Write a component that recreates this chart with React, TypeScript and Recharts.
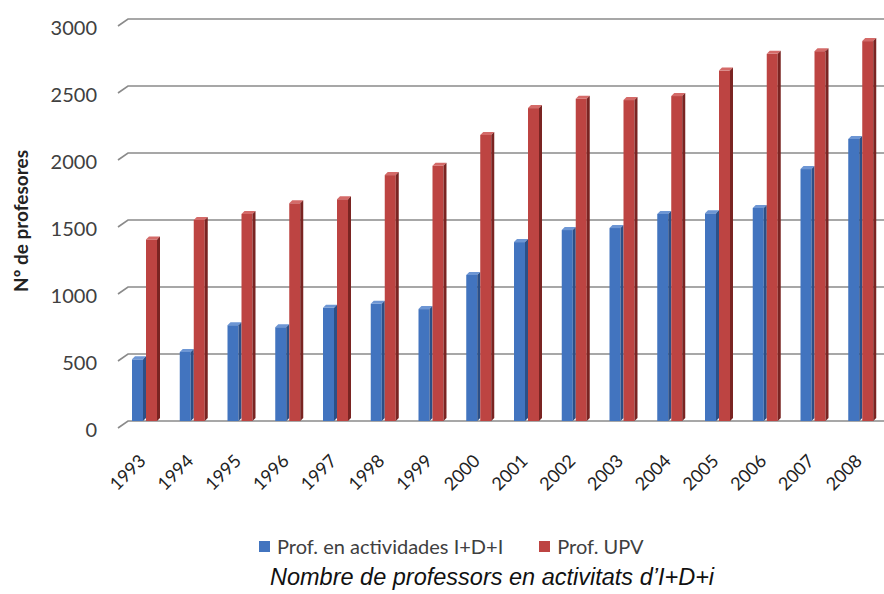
import { BarChart, Bar, XAxis, YAxis, CartesianGrid, Legend, Label } from 'recharts';

const years = ['1993', '1994', '1995', '1996', '1997', '1998', '1999', '2000', '2001', '2002', '2003', '2004', '2005', '2006', '2007', '2008'];
const profIdi = [460, 515, 715, 700, 845, 875, 835, 1090, 1335, 1425, 1440, 1545, 1550, 1590, 1880, 2105];
const profUpv = [1355, 1500, 1545, 1625, 1655, 1835, 1905, 2135, 2335, 2405, 2395, 2425, 2615, 2740, 2760, 2835];
const yTicks = [0, 500, 1000, 1500, 2000, 2500, 3000];

const data = years.map((year, i) => ({ year, idi: profIdi[i], upv: profUpv[i] }));

const BLUE = '#4274bf';
const RED = '#bd4442';
const axisFont = 'Lato, "Open Sans", sans-serif';

function Bar3D(props: any) {
  const { x, y, width, height, fill, top, side } = props;
  if (!height || height <= 0) return null;
  const d = 3;
  const w = width - d;
  return (
    <g>
      <rect x={x} y={y} width={w} height={height} fill={fill} />
      <polygon points={`${x},${y} ${x + d},${y - d} ${x + w + d},${y - d} ${x + w},${y}`} fill={top} />
      <polygon points={`${x + w},${y} ${x + w + d},${y - d} ${x + w + d},${y + height - d} ${x + w},${y + height}`} fill={side} />
    </g>
  );
}

function GridLine(p: any) {
  const { x1, x2, y1 } = p;
  return (
    <path
      key={`grid-${y1}`}
      d={`M${x1 - 4},${y1 + 7} L${x1 + 6},${y1} L${x2},${y1}`}
      stroke="#8a8a8a"
      strokeWidth={1.6}
      fill="none"
    />
  );
}

function YTick({ x, y, payload }: any) {
  return (
    <text x={x} y={y + 8} textAnchor="end" dominantBaseline="central" fontSize={20} fill="#404040" fontFamily={axisFont}>
      {payload.value}
    </text>
  );
}

function XTick({ x, y, payload }: any) {
  return (
    <g transform={`translate(${x + 1},${y + 41})`}>
      <text x={0} y={0} textAnchor="end" transform="rotate(-45)" fontSize={18} fill="#222" fontFamily={axisFont}>
        {payload.value}
      </text>
    </g>
  );
}

function LegendBox() {
  const items = [
    { label: 'Prof. en actividades I+D+I', color: BLUE },
    { label: 'Prof. UPV', color: RED },
  ];
  return (
    <div style={{ display: 'flex', gap: 36, fontFamily: axisFont, fontSize: 20, color: '#404040', lineHeight: 1 }}>
      {items.map((it) => (
        <div key={it.label} style={{ display: 'flex', alignItems: 'center' }}>
          <span style={{ width: 11, height: 11, background: it.color, display: 'inline-block', marginRight: 7 }} />
          <span>{it.label}</span>
        </div>
      ))}
    </div>
  );
}

export default function App() {
  return (
    <div style={{ position: 'absolute', left: 0, top: 0, width: 884, height: 594, overflow: 'hidden', background: '#fff' }}>
      <BarChart width={890} height={594} data={data} margin={{ top: 19, right: 4, bottom: 0, left: 0 }} barGap={0}>
        <CartesianGrid vertical={false} horizontal={GridLine} />
        <XAxis dataKey="year" height={173} axisLine={false} tickLine={false} tickSize={0} tickMargin={0} interval={0} tick={<XTick />} />
        <YAxis
          width={122}
          domain={[0, 3000]}
          ticks={yTicks}
          axisLine={false}
          tickLine={false}
          tickSize={0}
          tickMargin={25}
          tick={<YTick />}
        >
          <Label
            content={() => (
              <text
                x={20}
                y={221}
                transform="rotate(-90, 20, 221)"
                textAnchor="middle"
                dominantBaseline="central"
                fontSize={19}
                fontWeight="bold"
                fill="#222"
                fontFamily={axisFont}
              >
                Nº de profesores
              </text>
            )}
          />
        </YAxis>
        <Legend
          layout="horizontal"
          verticalAlign="middle"
          align="center"
          content={<LegendBox />}
          wrapperStyle={{ top: 536, left: 259, width: 560 }}
        />
        <Bar
          dataKey="idi"
          name="Prof. en actividades I+D+I"
          fill={BLUE}
          barSize={14}
          isAnimationActive={false}
          shape={(p: any) => <Bar3D {...p} top="#6d96d4" side="#2c4f86" />}
        />
        <Bar
          dataKey="upv"
          name="Prof. UPV"
          fill={RED}
          barSize={14}
          isAnimationActive={false}
          shape={(p: any) => <Bar3D {...p} top="#d46a68" side="#7a2422" />}
        />
      </BarChart>
      <div
        style={{
          position: 'absolute',
          left: 270,
          top: 566,
          fontFamily: '"Liberation Sans", Arial, sans-serif',
          fontStyle: 'italic',
          fontSize: 23.5,
          lineHeight: 1,
          color: '#111',
          whiteSpace: 'nowrap',
        }}
      >
        Nombre de professors en activitats d’I+D+i
      </div>
    </div>
  );
}
